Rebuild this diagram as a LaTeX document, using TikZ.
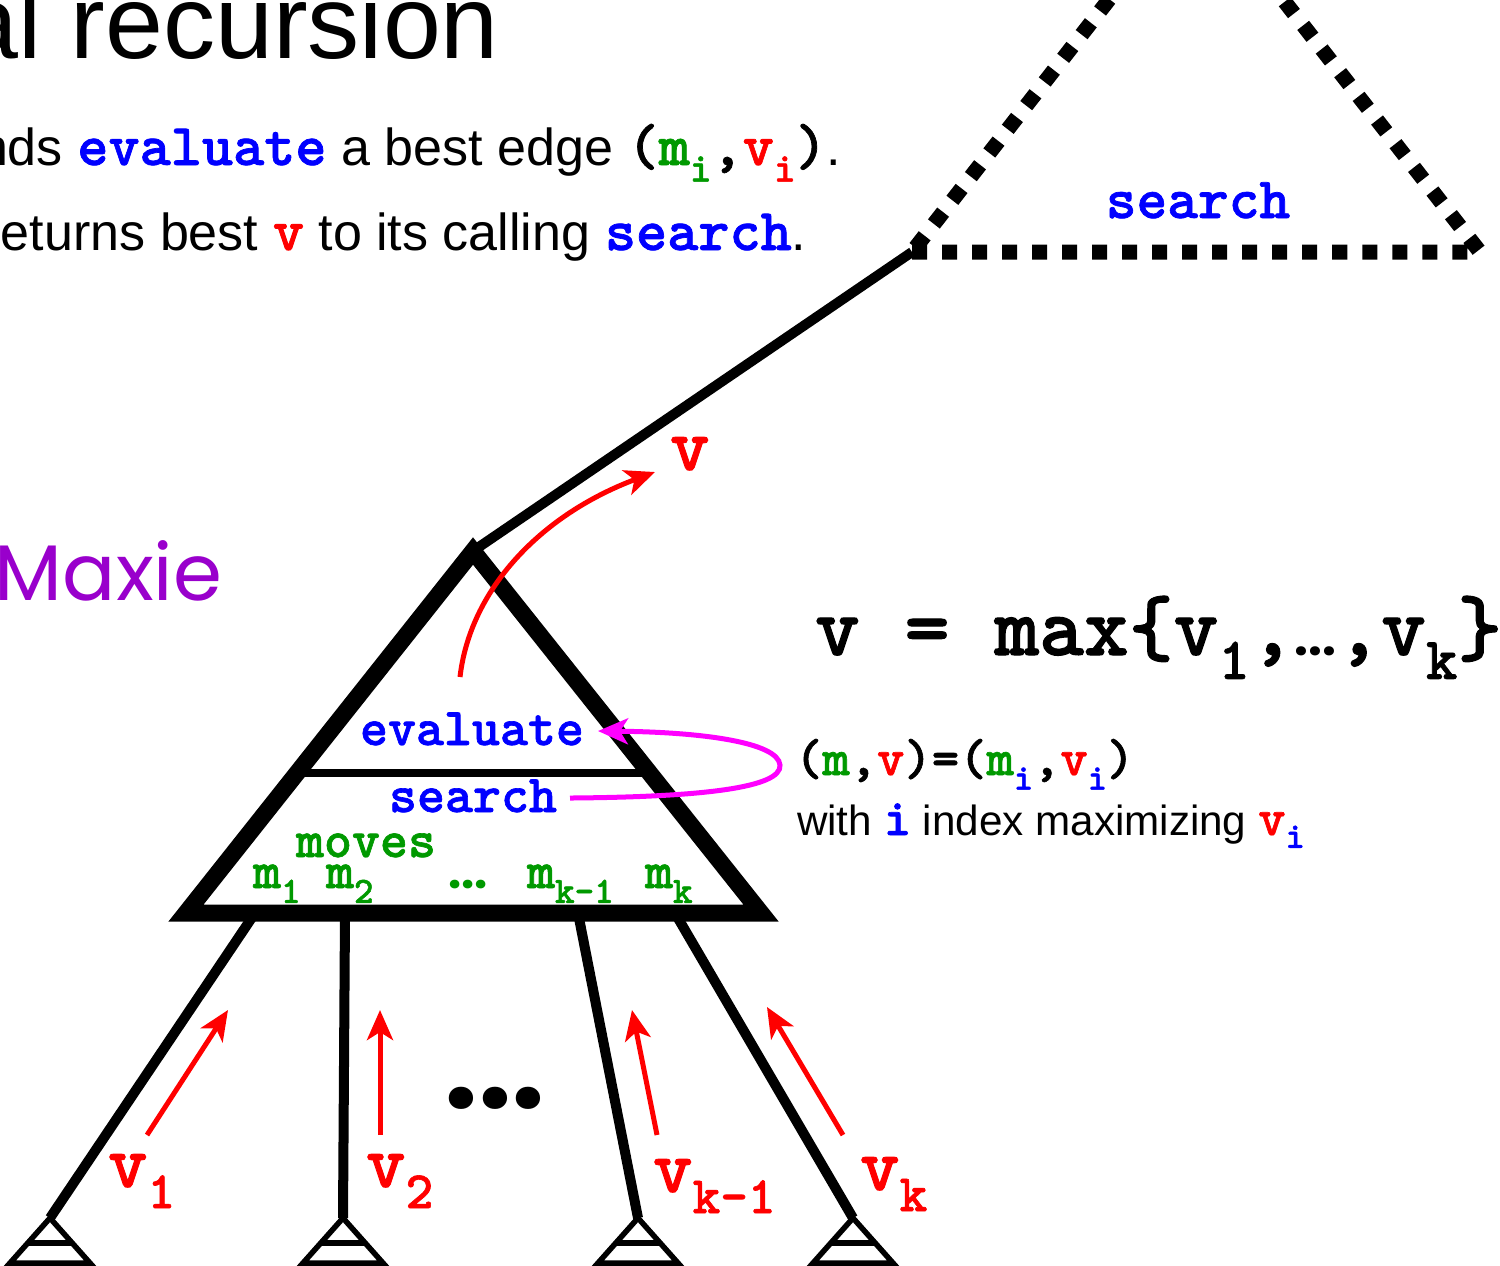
\documentclass[tikz,border=0pt]{standalone}
\usepackage{fontspec}
\setmainfont{Liberation Sans}
\newfontfamily\maxiefont{Poppins}
\newfontfamily\codefont{lmmonolt10-bold.otf}[FakeBold=1.2]
\usepackage{graphicx}
\usetikzlibrary{arrows.meta,calc}
\definecolor{CodeBlue}{RGB}{0,0,255}
\definecolor{CodeRed}{RGB}{255,0,0}
\definecolor{CodeGreen}{RGB}{0,153,0}
\definecolor{LoopMagenta}{RGB}{255,0,255}
\definecolor{MaxiePurple}{RGB}{153,0,204}

\makeatletter
\newcommand\cd[1]{{\codefont\@tempdima=1.14\dimexpr\f@size pt\relax
  \fontsize{\strip@pt\@tempdima}{\strip@pt\@tempdima}\selectfont #1}}
\makeatother
\newcommand\lowsub[1]{\raisebox{-0.28em}{\scalebox{0.7}{#1}}}
\newcommand\cblue[1]{\textcolor{CodeBlue}{\cd{#1}}}
\newcommand\cred[1]{\textcolor{CodeRed}{\cd{#1}}}
\newcommand\cgreen[1]{\textcolor{CodeGreen}{\cd{#1}}}
\newcommand\rounddots{{\maxiefont\bfseries ...}}

\begin{document}
\begin{tikzpicture}[x=0.01cm, y=-0.01cm, every node/.style={inner sep=0pt, outer sep=0pt}]
\tikzset{
  body/.style={anchor=base west, font=\fontsize{14.8}{17}\selectfont},
  calltri/.style={line width=0.15cm, dash pattern=on 0.15cm off 0.15cm},
  tri/.style={line width=0.17cm, line join=miter},
  divider/.style={line width=0.08cm},
  edge/.style={line width=0.1cm},
  leaf/.style={line width=0.055cm, line join=miter},
  upret/.style={-{Stealth[length=0.3cm,width=0.26cm,inset=0.08cm]}, line width=0.05cm, CodeRed},
  loopret/.style={-{Stealth[length=0.3cm,width=0.26cm,inset=0.08cm]}, line width=0.05cm, LoopMagenta},
  inner/.style={anchor=base, font=\fontsize{13.3}{15}\selectfont},
  mlabel/.style={anchor=base west, font=\fontsize{13.3}{15}\selectfont, CodeGreen},
  vlabel/.style={anchor=base west, font=\fontsize{18.8}{21}\selectfont, CodeRed}
}
  \useasboundingbox (0,0) rectangle (1500,1265);
  \clip (0,0) rectangle (1500,1265);

  % heading and text lines
  \node[anchor=base east, font=\fontsize{29.6}{33}\selectfont] (title) at (499,58) {al recursion};
  \node[body] (line1) at (-21,165) {nds \cblue{evaluate} a best edge \cd{(\textcolor{CodeGreen}{m\lowsub{i}},\textcolor{CodeRed}{v\lowsub{i}})}.};
  \node[body] (line2) at (1,250) {eturns best \cred{v} to its calling \cblue{search}.};
  \node[anchor=base east, font=\maxiefont\fontsize{22.4}{25}\selectfont, MaxiePurple] (maxie) at (222,600) {Maxie};

  % calling search
  \coordinate (callbl) at (912,252);
  \draw[calltri] (callbl) -- (1480,252) -- (1196,-112) -- cycle;
  \node[anchor=base, font=\fontsize{14.6}{17}\selectfont] (topsearch) at (1198,218) {\cblue{search}};

  % Maxie's search triangle
  \coordinate (apex) at (473,551);
  \coordinate (bl) at (186,913);
  \coordinate (br) at (761,913);
  \draw[edge] (callbl) -- (apex);
  \draw[tri] (apex) -- (bl) -- (br) -- cycle;
  \draw[divider] ($(apex)!0.612!(bl)$) -- ($(apex)!0.612!(br)$);
  \node[inner] (evalnode) at (472,745) {\cblue{evaluate}};
  \node[inner] (searchnode) at (473,812) {\cblue{search}};
  \node[inner] (movesnode) at (366,857) {\cgreen{moves}};
  \node[mlabel] (m1) at (253,888) {\cd{m\lowsub{1}}};
  \node[mlabel] (m2) at (326,888) {\cd{m\lowsub{2}}};
  \node[mlabel] (mdots) at (448,888) {\rounddots};
  \node[mlabel] (mk1) at (527,888) {\cd{m\lowsub{k-1}}};
  \node[mlabel] (mk) at (645,888) {\cd{m\lowsub{k}}};

  % value returned upward
  \coordinate (vstart) at (460,677);
  \coordinate (vend) at (655,472);
  \draw[upret] (vstart) .. controls (470,590) and (540,515) .. (vend);
  \node[vlabel] (vtop) at (670,470) {\cd{v}};

  % best edge loop
  \coordinate (lpstart) at (570,798);
  \coordinate (lpend) at (598,731);
  \draw[loopret] (lpstart) .. controls (700,797) and (782,788) .. (780,765)
    .. controls (778,742) and (700,732) .. (lpend);
  \node[anchor=base west, font=\fontsize{13}{15}\selectfont] (pair) at (795,775)
    {\cd{(\textcolor{CodeGreen}{m},\textcolor{CodeRed}{v})=(\textcolor{CodeGreen}{m}\textcolor{CodeBlue}{\lowsub{i}},\textcolor{CodeRed}{v}\textcolor{CodeBlue}{\lowsub{i}})}};
  \node[anchor=base west, font=\fontsize{12}{14}\selectfont] (withtext) at (797,835)
    {with {\fontsize{13}{15}\selectfont\cblue{i}} index maximizing {\fontsize{13}{15}\selectfont\cred{v}\textcolor{CodeBlue}{\lowsub{\cd{i}}}}};
  \node[anchor=base west, font=\fontsize{21.3}{24}\selectfont] (formula) at (815,655)
    {\cd{v = max\{v\lowsub{1},{\fontsize{14}{15}\selectfont\rounddots},v\lowsub{k}\}}};

  % subtrees below the moves
  \foreach \n/\bx/\lx in {1/255/50, 2/345/343, 3/578/638, 4/675/853} {
    \coordinate (b\n) at (\bx,913);
    \coordinate (l\n) at (\lx,1218);
  }
  \foreach \n in {1,...,4} {
    \draw[edge] (b\n) -- (l\n);
    \draw[leaf] (l\n) -- ++(-40,45) -- ++(80,0) -- cycle;
    \draw[leaf] ($(l\n)+(-22,25)$) -- ++(44,0);
  }
  \node[anchor=base, font=\fontsize{34}{36}\selectfont] (dots) at (495,1108) {\rounddots};

  % returned values
  \foreach \n/\sx/\sy/\tx/\ty in {1/147/1135/228/1010, 2/380/1135/380/1010, 3/657/1135/632/1010, 4/843/1135/767/1007} {
    \coordinate (s\n) at (\sx,\sy);
    \coordinate (t\n) at (\tx,\ty);
    \draw[upret] (s\n) -- (t\n);
  }
  \node[vlabel] (v1) at (108,1187) {\cd{v\lowsub{1}}};
  \node[vlabel] (v2) at (366,1187) {\cd{v\lowsub{2}}};
  \node[vlabel] (vk1) at (653,1192) {\cd{v\lowsub{k-1}}};
  \node[vlabel] (vk) at (860,1190) {\cd{v\lowsub{k}}};
\end{tikzpicture}
\end{document}
